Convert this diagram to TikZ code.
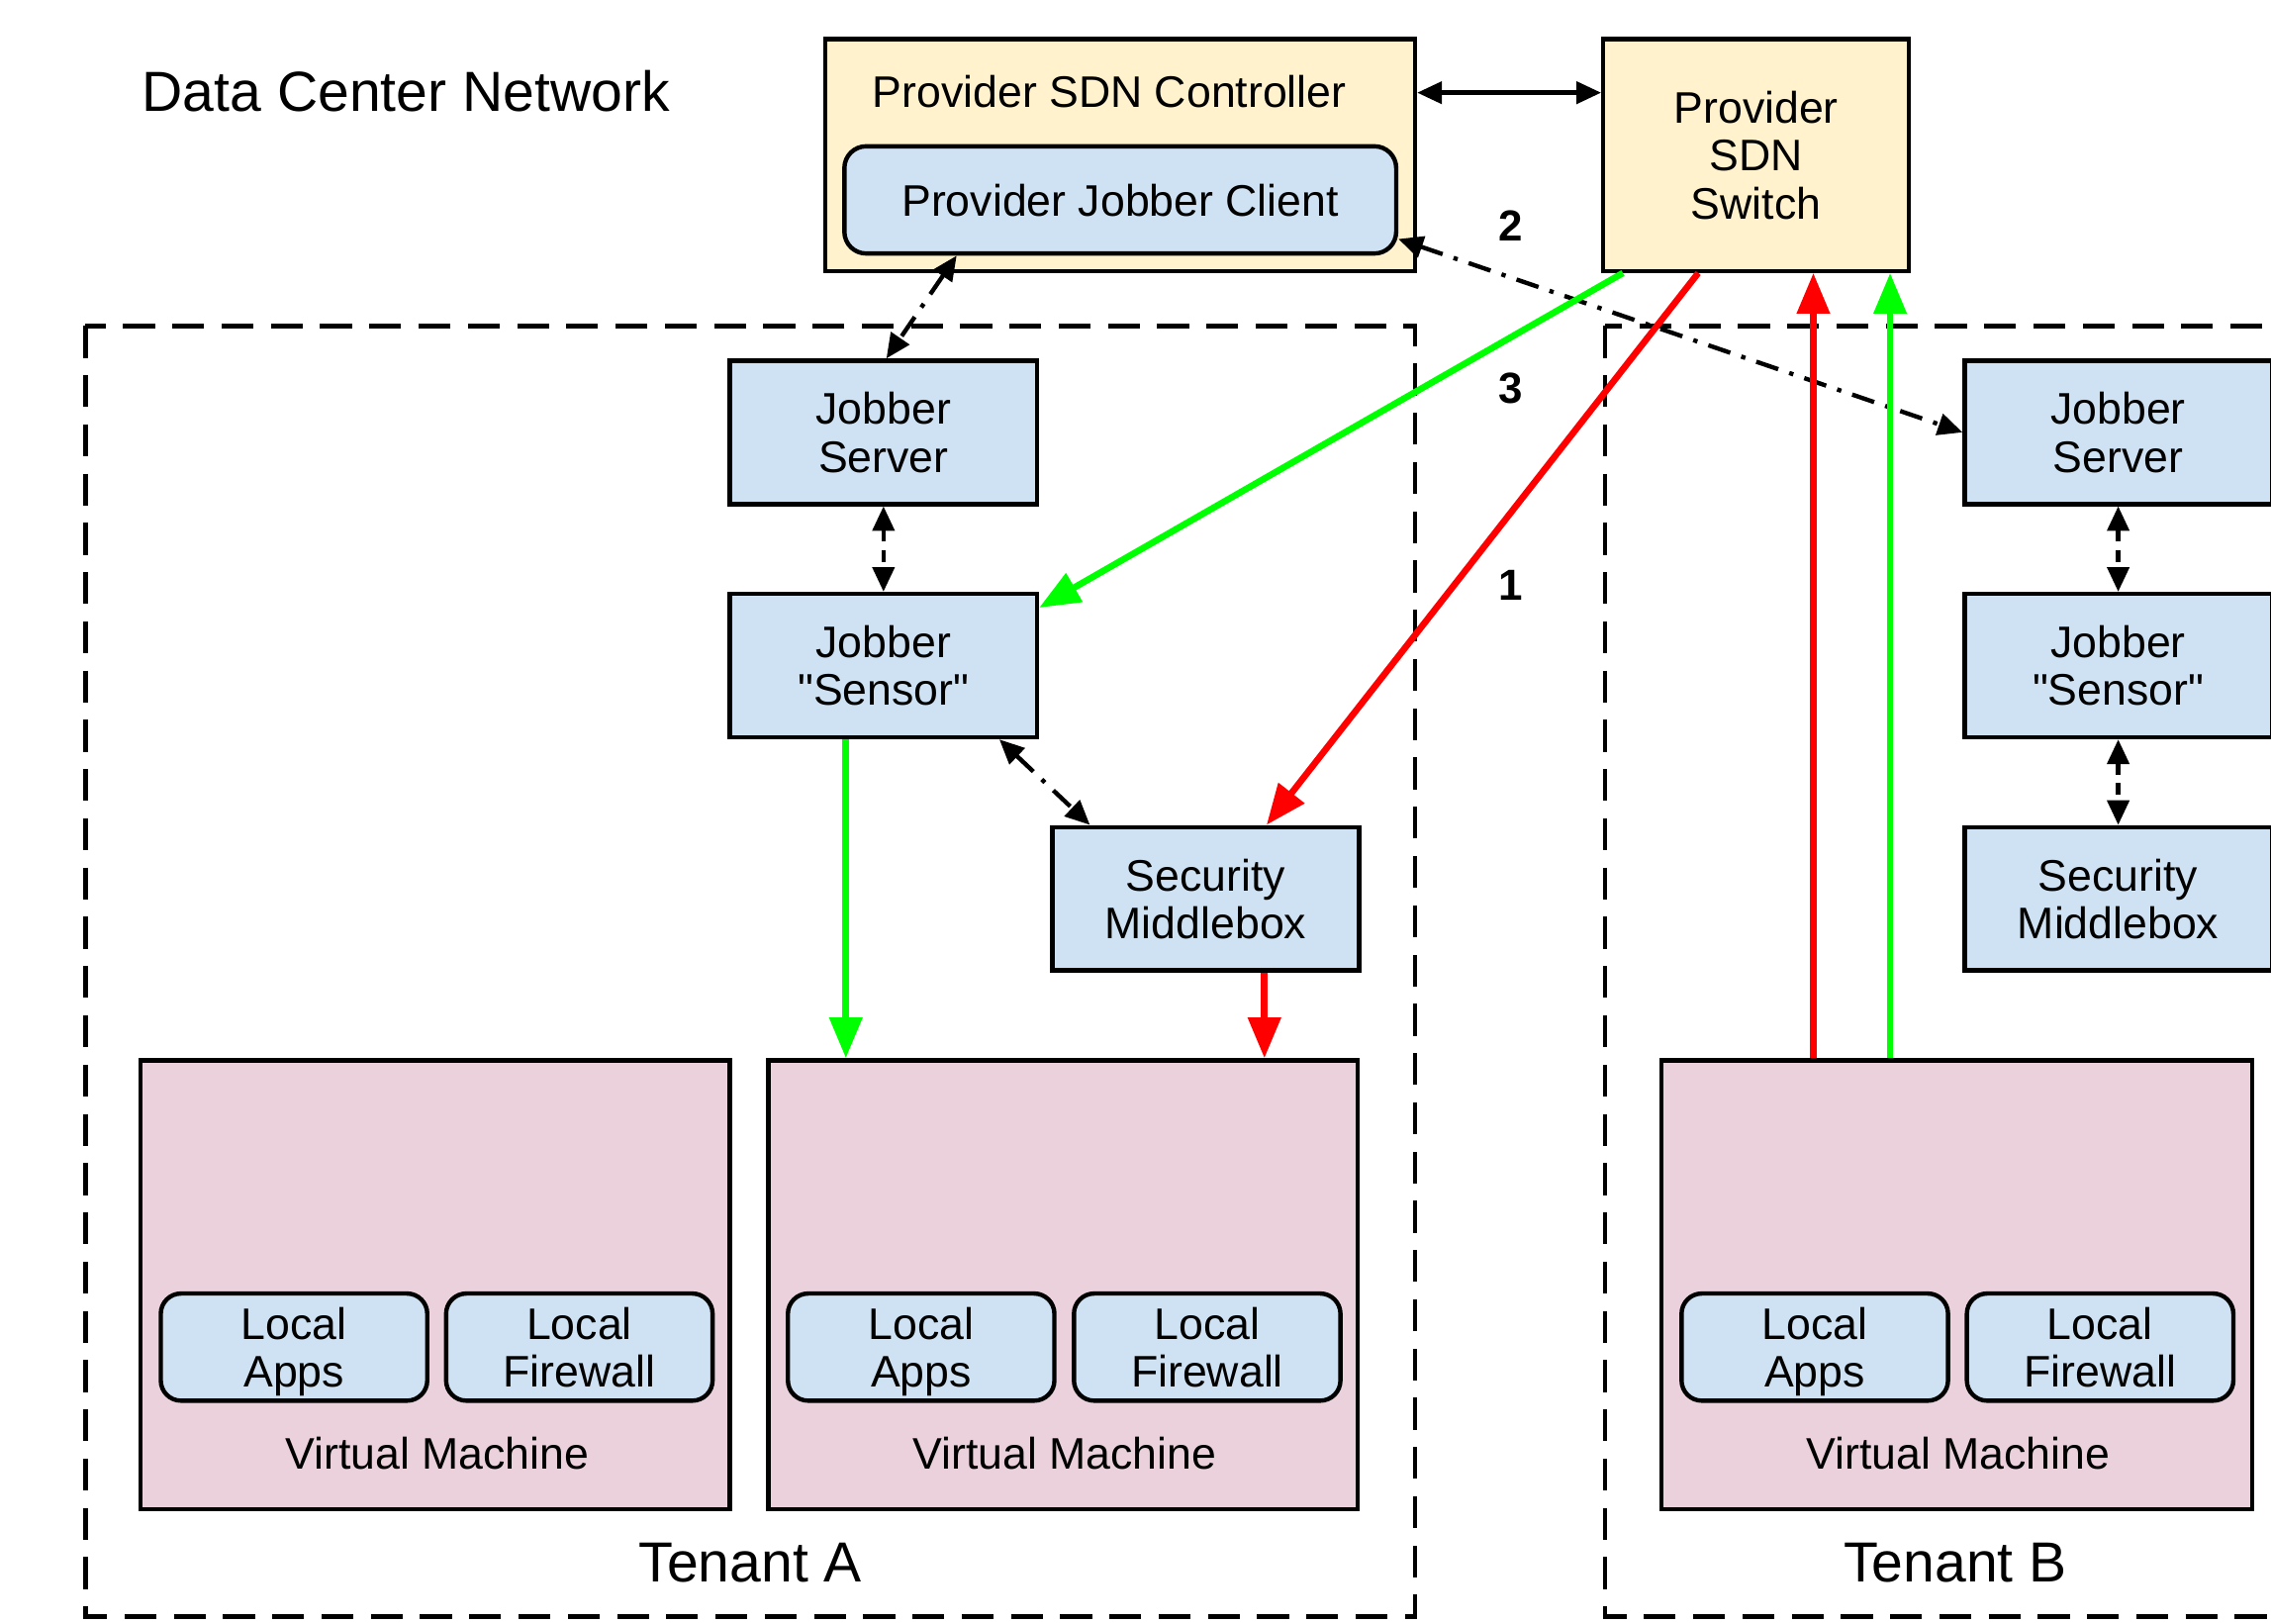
\documentclass[tikz,border=0pt]{standalone}
\usepackage{fontspec}
\setmainfont{Liberation Sans}[Ligatures=TeXOff]
\usetikzlibrary{arrows.meta,calc}
\definecolor{ctrlyellow}{HTML}{FFF2CC}
\definecolor{boxblue}{HTML}{CFE2F3}
\definecolor{vmpink}{HTML}{EAD1DC}
\definecolor{arrgreen}{HTML}{00FF00}
\definecolor{arrred}{HTML}{FF0000}
\begin{document}
\begin{tikzpicture}[x=1pt,y=-1pt,
  base/.style={font=\fontsize{30.5}{33}\selectfont, align=center, inner sep=0pt, text depth=0pt},
  yellowbox/.style={base, draw, line width=3pt, fill=ctrlyellow},
  bluebox/.style={base, draw, line width=3pt, fill=boxblue, minimum width=212pt, minimum height=99pt},
  roundbox/.style={base, draw, line width=3pt, fill=boxblue, rounded corners=14pt, minimum width=184pt, minimum height=74pt},
  vmbox/.style={draw, line width=3pt, fill=vmpink, minimum width=407pt, minimum height=310pt, inner sep=0pt},
  tenant/.style={draw, line width=3pt, dash pattern=on 22pt off 12pt},
  bigtext/.style={base, font=\fontsize{39}{42}\selectfont},
  numlab/.style={base, font=\bfseries\fontsize{30}{32}\selectfont},
  blk/.style={line width=3pt, {Triangle[length=17pt,width=15pt]}-{Triangle[length=17pt,width=15pt]}},
  dashdot/.style={blk, dash pattern=on 16pt off 8pt on 3pt off 8pt},
  shortdash/.style={blk, dash pattern=on 8pt off 6pt},
  garr/.style={line width=4.5pt, draw=arrgreen, -{Triangle[length=28pt,width=22pt,fill=arrgreen]}},
  rarr/.style={line width=4.5pt, draw=arrred, -{Triangle[length=28pt,width=22pt,fill=arrred]}}
]
\useasboundingbox (0,0) rectangle (1568,1120.5);

% tenant containers
\draw[tenant] (59,225) rectangle (977,1116);
\draw[tenant] (1108,225) rectangle (1600,1116);

% title and tenant labels
\node[bigtext, anchor=west] (title) at (98,63) {Data Center Network};
\node[bigtext] (tenA) at (518,1079) {Tenant A};
\node[bigtext] (tenB) at (1350,1079) {Tenant B};

% provider
\node[yellowbox, minimum width=407pt, minimum height=160pt] (ctrl) at (773.5,107) {};
\node[base] (ctrllab) at (766,63) {Provider SDN Controller};
\node[roundbox, rounded corners=15pt, minimum width=381pt] (client) at (773.5,138) {Provider Jobber Client};
\node[yellowbox, minimum width=211pt, minimum height=160pt] (switch) at (1212.5,107) {Provider\\SDN\\Switch};

% tenant A
\node[bluebox] (jsA) at (610,298.5) {Jobber\\Server};
\node[bluebox] (senA) at (610,459.5) {Jobber\\"Sensor"};
\node[bluebox] (mbA) at (832.5,620.5) {Security\\Middlebox};
\node[vmbox] (vm1) at (300.5,887) {};
\node[vmbox] (vm2) at (734,887) {};
\node[base] (vm1lab) at (302,1003) {Virtual Machine};
\node[base] (vm2lab) at (735,1003) {Virtual Machine};
\node[roundbox] (apps1) at (203,930) {Local\\Apps};
\node[roundbox] (fw1) at (400,930) {Local\\Firewall};
\node[roundbox] (apps2) at (636,930) {Local\\Apps};
\node[roundbox] (fw2) at (833.5,930) {Local\\Firewall};

% tenant B
\node[bluebox] (jsB) at (1462.5,298.5) {Jobber\\Server};
\node[bluebox] (senB) at (1462.5,459.5) {Jobber\\"Sensor"};
\node[bluebox] (mbB) at (1462.5,620.5) {Security\\Middlebox};
\node[vmbox, minimum width=408pt] (vmB) at (1351,887) {};
\node[base] (vmBlab) at (1352,1003) {Virtual Machine};
\node[roundbox] (appsB) at (1253,930) {Local\\Apps};
\node[roundbox] (fwB) at (1450,930) {Local\\Firewall};

% step numbers
\node[numlab] (n1) at (1043,404) {1};
\node[numlab] (n2) at (1043,156) {2};
\node[numlab] (n3) at (1043,268) {3};

% black connectors
\draw[blk] ([yshift=43pt]ctrl.east) -- ([yshift=43pt]switch.west);
\draw[dashdot] ([xshift=-113pt]client.south) -- ([xshift=2pt]jsA.north);
\draw[dashdot] ([yshift=-27pt]client.east) -- (jsB.west);
\draw[shortdash] (jsA.south) -- (senA.north);
\draw[dashdot] ([xshift=80pt]senA.south) -- ([xshift=-80pt]mbA.north);
\draw[shortdash] (jsB.south) -- (senB.north);
\draw[shortdash] (senB.south) -- (mbB.north);

% coloured flows
\draw[garr] ([xshift=-92pt]switch.south) -- ([yshift=-11pt]senA.north east);
\draw[rarr] ([xshift=-40pt]switch.south) -- ([xshift=42pt]mbA.north);
\draw[garr] ([xshift=-26pt]senA.south) -- ([xshift=-26pt]senA.south |- vm2.north);
\draw[rarr] ([xshift=40.5pt]mbA.south) -- ([xshift=40.5pt]mbA.south |- vm2.north);
\draw[rarr] ([xshift=-99pt]vmB.north) -- ([xshift=-99pt]vmB.north |- switch.south);
\draw[garr] ([xshift=-46pt]vmB.north) -- ([xshift=-46pt]vmB.north |- switch.south);
\end{tikzpicture}
\end{document}
